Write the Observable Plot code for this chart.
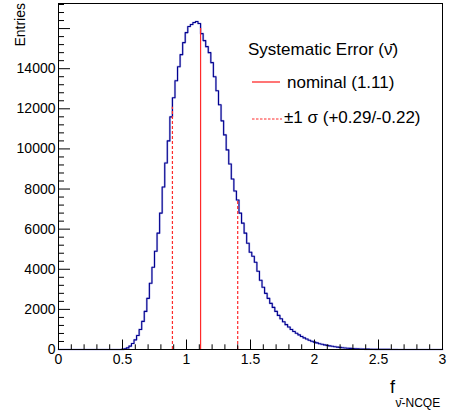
<!DOCTYPE html>
<html><head><meta charset="utf-8">
<script src="https://cdn.jsdelivr.net/npm/d3@7"></script>
<script src="https://cdn.jsdelivr.net/npm/@observablehq/plot@0.6"></script>
<style>html,body{margin:0;padding:0;background:#fff;} #chart{width:452px;height:410px;}</style>
</head><body><div id="chart"></div>
<script>
// Histogram: bins of width 0.02 starting at 0.49 (centres 0.50, 0.52, ...)
const binStart = 0.49;
const binWidth = 0.02;
const counts = [
  5, 30, 80, 170, 300, 480, 700, 1000, 1400, 1900,
  2550, 3300, 4100, 4900, 5800, 6800, 8100, 9300, 10400, 11600,
  12550, 13400, 14100, 14700, 15300, 15800, 16100, 16200, 16300, 16350,
  16250, 15750, 15400, 15100, 14800, 14300, 13600, 12900, 12200, 11400,
  10700, 9950, 9250, 8500, 7900, 7450, 6800, 6300, 5800, 5300,
  4850, 4650, 4350, 3900, 3450, 3100, 2800, 2550, 2300, 2100,
  1900, 1700, 1530, 1380, 1240, 1120, 1000, 900, 810, 730,
  650, 580, 520, 460, 410, 370, 330, 290, 260, 230,
  205, 180, 160, 140, 120, 105, 90, 78, 66, 56,
  48, 40, 34, 28, 24, 20, 17, 14, 12, 10,
  8, 7, 6, 5, 4, 3, 2, 2, 1, 1, 0
];
const xTickValues = [0, 0.5, 1, 1.5, 2, 2.5, 3];
const xTickLabels = ["0", "0.5", "1", "1.5", "2", "2.5", "3"];
const yTickValues = [0, 2000, 4000, 6000, 8000, 10000, 12000, 14000, 16000];
const yTickLabels = ["0", "2000", "4000", "6000", "8000", "10000", "12000", "14000", ""];
const nominalValue = 1.11;
const sigmaUp = 0.29;
const sigmaDown = 0.22;
const antiNu = "\u03BD\u0304";
const legendTitle = `Systematic Error (${antiNu})`;
const nominalLabel = "nominal";
const sigmaLabel = "\u00B11 \u03C3";
const xTitleMain = "f";
const xTitleSub = `${antiNu}-NCQE`;

const W = 452, H = 410, mL = 58, mR = 10, mT = 3, mB = 61;
const frameW = W - mL - mR, frameH = H - mT - mB;

// step outline points
const points = [{x: 0, y: 0}];
counts.forEach((c, i) => points.push({x: binStart + i * binWidth, y: c}));
const endX = binStart + counts.length * binWidth;
points.push({x: endX, y: 0});
points.push({x: 3, y: 0});

function valueAt(x) {
  const t = (x - binStart) / binWidth - 0.5;
  const i = Math.floor(t), f = t - i;
  const a = counts[Math.max(0, i)] ?? 0, b = counts[i + 1] ?? 0;
  return a + (b - a) * f;
}
const nominalRule = [{x: nominalValue, top: valueAt(nominalValue)}];
const sigmaRules = [nominalValue - sigmaDown, nominalValue + sigmaUp].map(x => ({x, top: valueAt(x)}));

const xMinor = d3.range(0, 31).map(i => i / 10).filter(v => !xTickValues.some(t => Math.abs(t - v) < 1e-9));
const yMinor = d3.range(0, 44).map(i => i * 400).filter(v => v % 2000 !== 0);

const red = "#ff2a2a";
const plot = Plot.plot({
  width: W, height: H,
  marginLeft: mL, marginRight: mR, marginTop: mT, marginBottom: mB,
  style: {fontFamily: "'Liberation Sans', Arial, sans-serif", fontSize: "14px", background: "white", color: "black", overflow: "visible"},
  x: {domain: [0, 3], ticks: xTickValues, tickFormat: d => xTickLabels[xTickValues.indexOf(d)], tickSize: 0, tickPadding: 5, label: null},
  y: {domain: [0, 17250], ticks: yTickValues, tickFormat: d => yTickLabels[yTickValues.indexOf(d)], tickSize: 0, tickPadding: 3, label: null},
  marks: [
    Plot.line(points, {x: "x", y: "y", curve: "step-after", stroke: "#7f7fd6", strokeWidth: 2.2, strokeOpacity: 0.45}),
    Plot.line(points, {x: "x", y: "y", curve: "step-after", stroke: "#00008f", strokeWidth: 1.1}),
    Plot.ruleX(nominalRule, {x: "x", y1: 0, y2: "top", stroke: red, strokeWidth: 1.2}),
    Plot.ruleX(sigmaRules, {x: "x", y1: 0, y2: "top", stroke: red, strokeWidth: 1.2, strokeDasharray: "3,2"}),
    Plot.tickX(xMinor, {x: d => d, insetTop: frameH - 4.7, stroke: "black"}),
    Plot.tickX(xTickValues, {x: d => d, insetTop: frameH - 9.5, stroke: "black"}),
    Plot.tickY(yMinor, {y: d => d, insetRight: frameW - 6, stroke: "black"}),
    Plot.tickY(yTickValues, {y: d => d, insetRight: frameW - 12, stroke: "black"}),
    Plot.frame({stroke: "black"})
  ]
});
document.getElementById("chart").appendChild(plot);

const svg = d3.select(plot);
const font = "'Liberation Sans', 'DejaVu Sans', Arial, sans-serif";
const txt = (x, y, size) => svg.append("text").attr("x", x).attr("y", y)
  .attr("font-family", font).attr("font-size", size).attr("fill", "black").attr("text-anchor", "start");
// y-axis title
svg.append("text").attr("transform", "translate(25,3) rotate(-90)")
  .attr("text-anchor", "end").attr("font-family", font).attr("font-size", 14).attr("fill", "black").text("Entries");
// x-axis title: f with subscript
txt(390, 393, 18).text(xTitleMain);
txt(395.5, 406.5, 12).text(xTitleSub);

// legend
txt(248, 55, 17).text(legendTitle);
svg.append("line").attr("x1", 252).attr("x2", 280).attr("y1", 82).attr("y2", 82).attr("stroke", red).attr("stroke-width", 1.3);
txt(287, 88, 17).text(`${nominalLabel} (${nominalValue.toFixed(2)})`);
svg.append("line").attr("x1", 252).attr("x2", 282).attr("y1", 119).attr("y2", 119).attr("stroke", red).attr("stroke-width", 1).attr("stroke-dasharray", "2.5,1.5");
txt(284, 123, 17).text(`${sigmaLabel} (+${sigmaUp.toFixed(2)}/-${sigmaDown.toFixed(2)})`);
</script></body></html>
